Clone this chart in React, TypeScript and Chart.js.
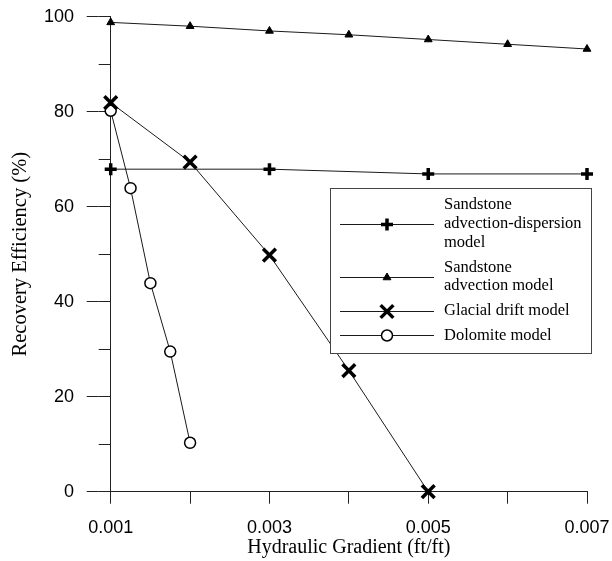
import React, { useEffect, useRef } from 'react';
import { Chart, registerables } from 'chart.js';
import { drawPoint } from 'chart.js/helpers';

Chart.register(...registerables);

// ---- data ----
const advDispX = [0.001, 0.003, 0.005, 0.007];
const advDispY = [67.9, 67.9, 66.9, 66.9];
const advX = [0.001, 0.002, 0.003, 0.004, 0.005, 0.006, 0.007];
const advY = [98.8, 98.0, 97.0, 96.2, 95.2, 94.2, 93.2];
const glacialX = [0.001, 0.002, 0.003, 0.004, 0.005];
const glacialY = [81.9, 69.4, 49.8, 25.5, 0];
const dolomiteX = [0.001, 0.00125, 0.0015, 0.00175, 0.002];
const dolomiteY = [80.2, 63.9, 43.9, 29.5, 10.3];

const seriesNames = [
  'Sandstone advection-dispersion model',
  'Sandstone advection model',
  'Glacial drift model',
  'Dolomite model',
];
const legendLines = [
  ['Sandstone', 'advection-dispersion', 'model'],
  ['Sandstone', 'advection model'],
  ['Glacial drift model'],
  ['Dolomite model'],
];

const xTicks = [0.001, 0.002, 0.003, 0.004, 0.005, 0.006, 0.007];
const xTickLabels = ['0.001', '', '0.003', '', '0.005', '', '0.007'];
const yTicks = [0, 10, 20, 30, 40, 50, 60, 70, 80, 90, 100];
const yTickLabels = ['0', '', '20', '', '40', '', '60', '', '80', '', '100'];

const xTitle = 'Hydraulic Gradient (ft/ft)';
const yTitle = 'Recovery Efficiency (%)';

const toPoints = (xs: number[], ys: number[]) => xs.map((x, i) => ({ x, y: ys[i] }));

const LINE = '#1a1a1a';

const majorTickPlugin = {
  id: 'majorTicks',
  afterDraw(chart: any, _args: any, opts: any) {
    const ys = chart.scales.y;
    const ctx = chart.ctx;
    ctx.save();
    ctx.strokeStyle = opts.color;
    ctx.lineWidth = 1;
    const left = chart.chartArea.left;
    yTicks.forEach((v, i) => {
      if (!yTickLabels[i]) return;
      const py = Math.round(ys.getPixelForValue(v) - 0.5) + 0.5;
      ctx.beginPath();
      ctx.moveTo(left - opts.major, py);
      ctx.lineTo(left - opts.minor, py);
      ctx.stroke();
    });
    ctx.restore();
  },
};

const boxLegendPlugin = {
  id: 'boxLegend',
  afterDatasetsDraw(chart: any, _args: any, o: any) {
    const ctx = chart.ctx;
    ctx.save();
    ctx.fillStyle = '#ffffff';
    ctx.fillRect(o.left, o.top, o.right - o.left, o.bottom - o.top);
    ctx.strokeStyle = o.borderColor;
    ctx.lineWidth = 1;
    ctx.strokeRect(o.left + 0.5, o.top + 0.5, o.right - o.left, o.bottom - o.top);
    let y = o.firstLine;
    chart.data.datasets.forEach((ds: any, i: number) => {
      const lines = legendLines[i];
      const centers = lines.map((_: string, k: number) => y + k * o.lineHeight);
      const my = (centers[0] + centers[centers.length - 1]) / 2;
      ctx.strokeStyle = ds.borderColor;
      ctx.lineWidth = ds.borderWidth;
      ctx.beginPath();
      ctx.moveTo(o.sampleLeft, Math.round(my) + 0.5);
      ctx.lineTo(o.sampleRight, Math.round(my) + 0.5);
      ctx.stroke();
      ctx.strokeStyle = ds.pointBorderColor;
      ctx.fillStyle = ds.pointBackgroundColor;
      ctx.lineWidth = ds.pointBorderWidth;
      drawPoint(
        ctx,
        { pointStyle: ds.pointStyle, radius: ds.pointRadius, rotation: 0, borderWidth: ds.pointBorderWidth },
        o.markerX,
        Math.round(my) + 0.5,
      );
      ctx.fillStyle = '#000';
      ctx.font = o.font;
      ctx.textAlign = 'left';
      ctx.textBaseline = 'middle';
      lines.forEach((t: string, k: number) => ctx.fillText(t, o.textX, centers[k]));
      y = centers[centers.length - 1] + o.lineHeight + o.entryGap;
    });
    ctx.restore();
  },
};

export default function App() {
  const ref = useRef<HTMLCanvasElement | null>(null);
  useEffect(() => {
    if (!ref.current) return;
    const chart = new Chart(ref.current, {
      type: 'scatter',
      data: {
        datasets: [
          {
            label: seriesNames[0],
            data: toPoints(advDispX, advDispY),
            showLine: true,
            borderColor: LINE,
            borderWidth: 1,
            pointStyle: 'cross',
            pointRadius: 6,
            pointBorderWidth: 3.5,
            pointBorderColor: '#000',
            pointBackgroundColor: '#000',
            clip: false,
          },
          {
            label: seriesNames[1],
            data: toPoints(advX, advY),
            showLine: true,
            borderColor: LINE,
            borderWidth: 1,
            pointStyle: 'triangle',
            pointRadius: 4.5,
            pointBorderWidth: 1,
            pointBorderColor: '#000',
            pointBackgroundColor: '#000',
            clip: false,
          },
          {
            label: seriesNames[2],
            data: toPoints(glacialX, glacialY),
            showLine: true,
            borderColor: LINE,
            borderWidth: 1,
            pointStyle: 'crossRot',
            pointRadius: 9,
            pointBorderWidth: 3.5,
            pointBorderColor: '#000',
            pointBackgroundColor: '#000',
            clip: false,
          },
          {
            label: seriesNames[3],
            data: toPoints(dolomiteX, dolomiteY),
            showLine: true,
            borderColor: LINE,
            borderWidth: 1,
            pointStyle: 'circle',
            pointRadius: 5.5,
            pointBorderWidth: 1.5,
            pointBorderColor: '#000',
            pointBackgroundColor: '#fff',
            clip: false,
          },
        ] as any,
      },
      options: {
        animation: false,
        responsive: false,
        devicePixelRatio: 1,
        layout: { padding: { left: 0, right: 25, top: 16.7, bottom: 0 } },
        scales: {
          x: {
            type: 'linear',
            min: 0.001,
            max: 0.007,
            afterBuildTicks: (s: any) => {
              s.ticks = xTicks.map((v) => ({ value: v }));
            },
            afterFit: (s: any) => {
              s.height = 561 - 491.7;
              s.paddingLeft = 0;
              s.paddingRight = 0;
            },
            ticks: {
              autoSkip: false,
              maxRotation: 0,
              padding: 14,
              color: '#000',
              font: { family: 'Liberation Sans', size: 18 },
              callback: (_v: any, i: number) => xTickLabels[i],
            },
            grid: { drawOnChartArea: false, drawTicks: true, tickLength: 12, color: '#222' },
            border: { display: true, color: '#222', width: 1 },
            title: {
              display: true,
              text: xTitle,
              color: '#000',
              font: { family: 'Liberation Serif', size: 20 },
              padding: { top: 0, bottom: 1 },
            },
          },
          y: {
            type: 'linear',
            min: 0,
            max: 100,
            afterBuildTicks: (s: any) => {
              s.ticks = yTicks.map((v) => ({ value: v }));
            },
            afterFit: (s: any) => {
              s.width = 110.7;
              s.paddingTop = 0;
              s.paddingBottom = 0;
            },
            ticks: {
              autoSkip: false,
              padding: 24.7,
              color: '#000',
              font: { family: 'Liberation Sans', size: 18 },
              callback: (_v: any, i: number) => yTickLabels[i],
            },
            grid: { drawOnChartArea: false, drawTicks: true, tickLength: 12, color: '#222' },
            border: { display: true, color: '#222', width: 1 },
            title: {
              display: true,
              text: yTitle,
              color: '#000',
              font: { family: 'Liberation Serif', size: 20.5 },
              padding: { top: 8.5, bottom: 0 },
            },
          },
        },
        plugins: {
          legend: { display: false },
          tooltip: { enabled: false },
          majorTicks: { major: 24, minor: 12, color: '#222' },
          boxLegend: {
            left: 330,
            top: 188,
            right: 591,
            bottom: 353,
            borderColor: '#444',
            sampleLeft: 340,
            sampleRight: 434,
            markerX: 387,
            textX: 444,
            firstLine: 205,
            lineHeight: 18.8,
            entryGap: 5.8,
            font: '16.5px "Liberation Serif"',
          },
        } as any,
      },
      plugins: [majorTickPlugin, boxLegendPlugin],
    });
    return () => chart.destroy();
  }, []);
  return (
    <div style={{ position: 'absolute', left: 0, top: 0, width: 612, height: 561 }}>
      <canvas ref={ref} width={612} height={561} style={{ display: 'block' }} />
    </div>
  );
}
